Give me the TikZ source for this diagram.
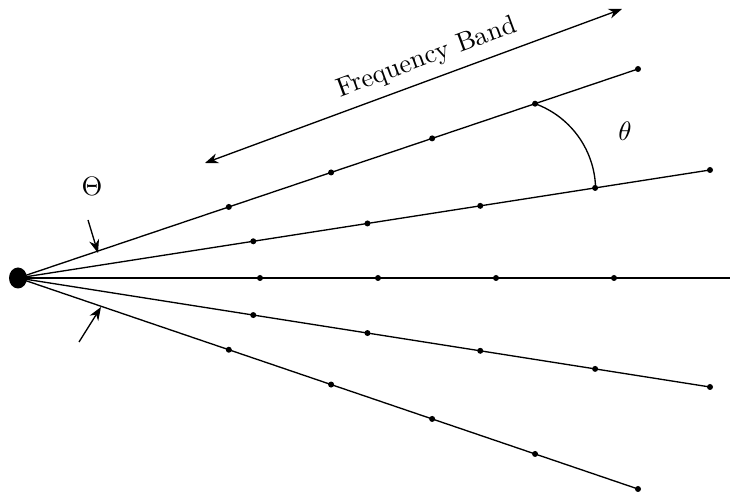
\documentclass[tikz,border=0pt]{standalone}
\usetikzlibrary{calc,arrows.meta}
\tikzset{
  ray/.style={line width=0.5pt},
  pointer/.style={line width=0.5pt,-{Stealth[length=5pt,width=3.8pt]}},
  band/.style={line width=0.5pt,{Stealth[length=5pt,width=3.8pt]}-{Stealth[length=5pt,width=3.8pt]}},
}
\begin{document}
\begin{tikzpicture}[x=0.375pt,y=-0.375pt]
\useasboundingbox (0,0) rectangle (730,498);
\coordinate (src) at (18,278);
% slanted rays with their sample points
\foreach \name/\x/\y in {r1/638/69, r2/710/170, r4/710/387, r5/638/489}{
  \coordinate (\name) at (\x,\y);
  \draw[ray] (src) -- (\name);
  \foreach \f [count=\k from 2] in {0.34,0.505,0.668,0.834,1}
    \fill ($(src)!\f!(\name)$) coordinate (\name-\k) circle[radius=3];
}
% middle ray
\coordinate (r3) at (730,278);
\draw[ray] (src) -- (r3);
\foreach \x in {260,378,496,614}
  \fill (\x,278) circle[radius=3];
\fill (src) ellipse[x radius=9, y radius=10.5];

% angle between two rays
\draw[ray] (r1-5) arc[start angle=-70, end angle=0, radius=92];
\node (theta) at (625,131) {$\theta$};

% total aperture
\node (Theta) at (92,186) {$\Theta$};
\coordinate (tA) at (88,220);
\coordinate (tB) at (98,253);
\draw[pointer] (tA) -- (tB);
\coordinate (bA) at (79,342);
\coordinate (bB) at (101,307);
\draw[pointer] (bA) -- (bB);

% frequency axis
\coordinate (fL) at (205,163);
\coordinate (fR) at (622,9);
\draw[band] (fL) -- node[pos=0.55, above, sloped] (fb) {Frequency Band} (fR);
\end{tikzpicture}
\end{document}
